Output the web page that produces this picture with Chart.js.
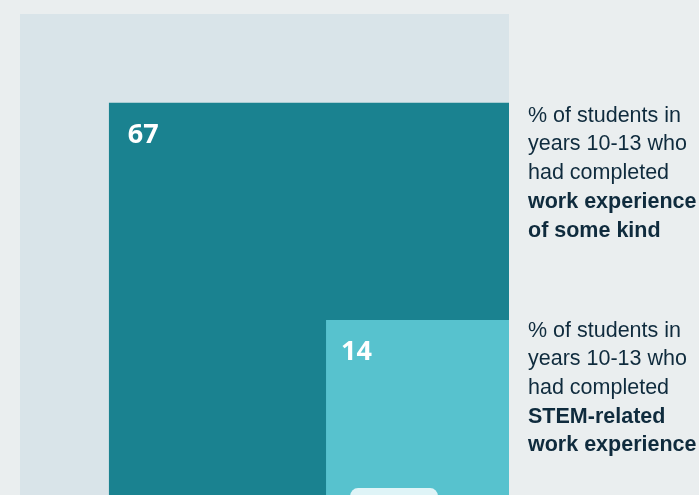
<!DOCTYPE html>
<html>
<head>
<meta charset="utf-8">
<script src="https://cdn.jsdelivr.net/npm/chart.js@4/dist/chart.umd.min.js"></script>
<style>
  html, body { margin: 0; padding: 0; width: 699px; height: 495px; overflow: hidden; background: #eaeeef; }
  #wrap { position: absolute; left: 0; top: 0; width: 699px; height: 510px; }
  .note { position: absolute; left: 528px; font-family: "Liberation Sans", Arial, sans-serif; font-size: 21.5px;
          line-height: 28.7px; color: #0f2b3d; white-space: nowrap; }
  .note b { font-weight: bold; }
</style>
</head>
<body>
<div id="wrap"><canvas id="c" width="699" height="510"></canvas></div>
<div class="note" id="n1">% of students in<br>years 10-13 who<br>had completed<br><b>work experience<br>of some kind</b></div>
<div class="note" id="n2">% of students in<br>years 10-13 who<br>had completed<br><b>STEM-related<br>work experience</b></div>
<script>
// Data
const categories = ["All students", "Work experience of some kind", "STEM-related work experience"];
const values = [100, 67, 14];
const showLabel = [false, true, true];
const fills = ["#d9e4e9", "#1a8290", "#57c2ce"];

// square of area proportional to value, anchored at bottom-right (1,0)
function squarePoints(v) {
  const s = Math.sqrt(v / 100);
  return [{x: 1 - s, y: 0}, {x: 1 - s, y: s}, {x: 1, y: s}, {x: 1, y: 0}];
}

const datasets = values.map((v, i) => ({
  label: categories[i],
  data: squarePoints(v),
  order: values.length - i,
  showLine: true,
  fill: 'origin',
  backgroundColor: fills[i],
  borderColor: fills[i],
  borderWidth: 0,
  pointRadius: 0,
  tension: 0
}));

const labelPlugin = {
  id: 'labels',
  afterDatasetsDraw(chart) {
    const {ctx, scales: {x, y}} = chart;
    ctx.save();
    // decorative tab inside the STEM square
    const sL = x.getPixelForValue(1 - Math.sqrt(values[2] / 100));
    const sT = y.getPixelForValue(Math.sqrt(values[2] / 100));
    ctx.fillStyle = '#dff4f7';
    ctx.beginPath();
    ctx.roundRect(sL + 24, sT + 168, 88, 40, 8);
    ctx.fill();
    ctx.fillStyle = '#ffffff';
    ctx.font = 'bold 27px "Open Sans", "DejaVu Sans", sans-serif';
    ctx.textBaseline = 'alphabetic';
    values.forEach((v, i) => {
      if (!showLabel[i]) return;
      const s = Math.sqrt(v / 100);
      const px = x.getPixelForValue(1 - s);
      const py = y.getPixelForValue(s);
      ctx.fillText(String(v), px + (i === 2 ? 15 : 19), py + 40);
    });
    ctx.restore();
    // position notes at square tops
    const t1 = y.getPixelForValue(Math.sqrt(values[1] / 100));
    const t2 = y.getPixelForValue(Math.sqrt(values[2] / 100));
    document.getElementById('n1').style.top = (t1 - 2) + 'px';
    document.getElementById('n2').style.top = (t2 - 4.5) + 'px';
  }
};

new Chart(document.getElementById('c'), {
  type: 'scatter',
  data: { datasets },
  options: {
    responsive: false,
    animation: false,
    layout: { padding: { left: 20, right: 190, top: 14, bottom: 7 } },
    plugins: { legend: { display: false }, tooltip: { enabled: false } },
    scales: {
      x: { type: 'linear', min: 0, max: 1, display: false },
      y: { type: 'linear', min: 0, max: 1, display: false }
    }
  },
  plugins: [labelPlugin]
});
</script>
</body>
</html>
